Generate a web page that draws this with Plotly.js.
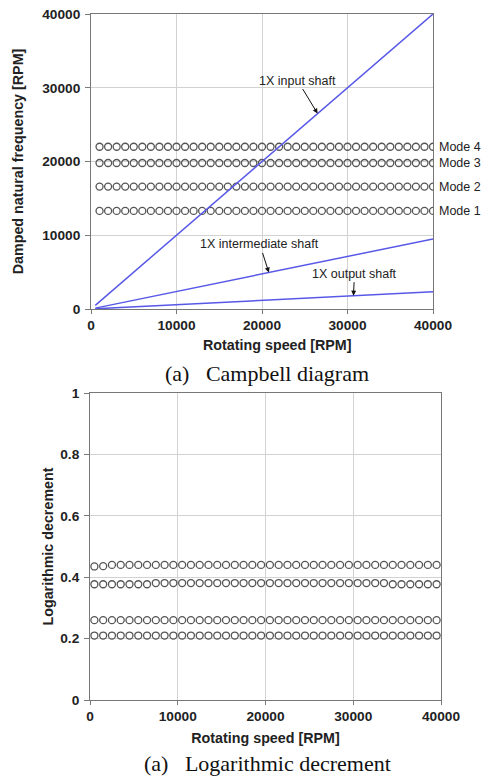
<!DOCTYPE html>
<html>
<head>
<meta charset="utf-8">
<script src="https://cdn.plot.ly/plotly-3.0.1.min.js"></script>
<style>html,body{margin:0;padding:0;background:#fff;}#chart{width:481px;height:779px;}</style>
</head>
<body>
<div id="chart"></div>
<script>
// ---- Campbell diagram data ----
const speedTop = [1000,2000,3000,4000,5000,6000,7000,8000,9000,10000,11000,12000,13000,14000,15000,16000,17000,18000,19000,20000,21000,22000,23000,24000,25000,26000,27000,28000,29000,30000,31000,32000,33000,34000,35000,36000,37000,38000,39000,40000];
const freqMode1 = [13300,13300,13300,13300,13300,13300,13300,13300,13300,13300,13300,13300,13300,13300,13300,13300,13300,13300,13300,13300,13300,13300,13300,13300,13300,13300,13300,13300,13300,13300,13300,13300,13300,13300,13300,13300,13300,13300,13300,13300];
const freqMode2 = [16600,16600,16600,16600,16600,16600,16600,16600,16600,16600,16600,16600,16600,16600,16600,16600,16600,16600,16600,16600,16600,16600,16600,16600,16600,16600,16600,16600,16600,16600,16600,16600,16600,16600,16600,16600,16600,16600,16600,16600];
const freqMode3 = [19800,19800,19800,19800,19800,19800,19800,19800,19800,19800,19800,19800,19800,19800,19800,19800,19800,19800,19800,19800,19800,19800,19800,19800,19800,19800,19800,19800,19800,19800,19800,19800,19800,19800,19800,19800,19800,19800,19800,19800];
const freqMode4 = [22000,22000,22000,22000,22000,22000,22000,22000,22000,22000,22000,22000,22000,22000,22000,22000,22000,22000,22000,22000,22000,22000,22000,22000,22000,22000,22000,22000,22000,22000,22000,22000,22000,22000,22000,22000,22000,22000,22000,22000];
const shaftSpeed = [500, 40000];
const inputShaft1X = [500, 40000];
const intermediateShaft1X = [120, 9500];
const outputShaft1X = [30, 2350];
const modeLabels = ['Mode 1','Mode 2','Mode 3','Mode 4'];
const modeLabelY = [13300, 16600, 19800, 22000];

// ---- Logarithmic decrement data ----
const speedBottom = [500,1500,2500,3500,4500,5500,6500,7500,8500,9500,10500,11500,12500,13500,14500,15500,16500,17500,18500,19500,20500,21500,22500,23500,24500,25500,26500,27500,28500,29500,30500,31500,32500,33500,34500,35500,36500,37500,38500,39500];
const logDecA = [0.435,0.436,0.44,0.44,0.44,0.44,0.44,0.44,0.44,0.44,0.44,0.44,0.44,0.44,0.44,0.44,0.44,0.44,0.44,0.44,0.44,0.44,0.44,0.44,0.44,0.44,0.44,0.44,0.44,0.44,0.44,0.44,0.44,0.44,0.44,0.44,0.44,0.44,0.44,0.44];
const logDecB = [0.377,0.377,0.377,0.377,0.377,0.377,0.377,0.381,0.381,0.381,0.381,0.381,0.381,0.381,0.381,0.381,0.381,0.381,0.381,0.381,0.381,0.381,0.381,0.381,0.381,0.381,0.381,0.381,0.381,0.381,0.381,0.381,0.381,0.381,0.377,0.377,0.377,0.377,0.377,0.377];
const logDecC = [0.26,0.26,0.26,0.26,0.26,0.26,0.26,0.26,0.26,0.26,0.26,0.26,0.26,0.26,0.26,0.26,0.26,0.26,0.26,0.26,0.26,0.26,0.26,0.26,0.26,0.26,0.26,0.26,0.26,0.26,0.26,0.26,0.26,0.26,0.26,0.26,0.26,0.26,0.26,0.26];
const logDecD = [0.21,0.21,0.21,0.21,0.21,0.21,0.21,0.21,0.21,0.21,0.21,0.21,0.21,0.21,0.21,0.21,0.21,0.21,0.21,0.21,0.21,0.21,0.21,0.21,0.21,0.21,0.21,0.21,0.21,0.21,0.21,0.21,0.21,0.21,0.21,0.21,0.21,0.21,0.21,0.21];

const W = 481, H = 779;
const sans = 'Liberation Sans, Arial, sans-serif';
const serif = 'Liberation Serif, Times New Roman, serif';
const lineColor = '#5858e8';
const mk = {symbol:'circle-open', size:7, color:'#555555', line:{width:1.3, color:'#555555'}};

function modeTrace(x, y, xa, ya, name){
  return {type:'scatter', mode:'markers', x:x, y:y, xaxis:xa, yaxis:ya, name:name, marker:mk, hoverinfo:'x+y'};
}
function lineTrace(y, name){
  return {type:'scatter', mode:'lines', x:shaftSpeed, y:y, xaxis:'x', yaxis:'y', name:name, line:{color:lineColor, width:1.5}};
}

const data = [
  modeTrace(speedTop, freqMode1, 'x', 'y', 'Mode 1'),
  modeTrace(speedTop, freqMode2, 'x', 'y', 'Mode 2'),
  modeTrace(speedTop, freqMode3, 'x', 'y', 'Mode 3'),
  modeTrace(speedTop, freqMode4, 'x', 'y', 'Mode 4'),
  lineTrace(inputShaft1X, '1X input shaft'),
  lineTrace(intermediateShaft1X, '1X intermediate shaft'),
  lineTrace(outputShaft1X, '1X output shaft'),
  modeTrace(speedBottom, logDecA, 'x2', 'y2', 'A'),
  modeTrace(speedBottom, logDecB, 'x2', 'y2', 'B'),
  modeTrace(speedBottom, logDecC, 'x2', 'y2', 'C'),
  modeTrace(speedBottom, logDecD, 'x2', 'y2', 'D')
];

const tickFont = {family:sans, size:13.7, color:'#222', weight:'bold'};
const titleFont = {family:sans, size:14.3, color:'#222', weight:'bold'};
const axBase = {
  showgrid:true, gridcolor:'#d2d2d2', gridwidth:1,
  showline:true, linecolor:'#777777', linewidth:1, mirror:true,
  ticks:'outside', ticklen:5, tickcolor:'#7a7a7a', tickwidth:1,
  tickfont:tickFont, zeroline:false, fixedrange:true
};

const annotations = [];
modeLabels.forEach(function(t, i){
  annotations.push({xref:'x', yref:'y', x:40000, y:modeLabelY[i], text:t, showarrow:false,
    xanchor:'left', yanchor:'middle', xshift:4, font:{family:sans, size:12.5, color:'#222'}});
});
const arrowFont = {family:sans, size:12.5, color:'#222'};
annotations.push({xref:'x', yref:'y', x:26500, y:26500, text:'1X input shaft', showarrow:true,
  arrowhead:2, arrowsize:1, arrowwidth:1, arrowcolor:'#111', ax:-20, ay:-33, font:arrowFont});
annotations.push({xref:'x', yref:'y', x:20800, y:4950, text:'1X intermediate shaft', showarrow:true,
  arrowhead:2, arrowsize:1, arrowwidth:1, arrowcolor:'#111', ax:-9, ay:-28, font:arrowFont});
annotations.push({xref:'x', yref:'y', x:30700, y:1810, text:'1X output shaft', showarrow:true,
  arrowhead:2, arrowsize:1, arrowwidth:1, arrowcolor:'#111', ax:1, ay:-22, font:arrowFont});
// top x-axis title (sits slightly right of the plot centre in the original)
annotations.push({xref:'paper', yref:'paper', x:277/W, y:1-345/H, text:'Rotating speed [RPM]',
  showarrow:false, xanchor:'center', yanchor:'middle', font:titleFont});
annotations.push({xref:'paper', yref:'paper', x:267/W, y:1-373/H, text:'(a)\u00a0\u00a0\u00a0Campbell diagram',
  showarrow:false, xanchor:'center', yanchor:'middle', font:{family:serif, size:22, color:'#111'}});
annotations.push({xref:'paper', yref:'paper', x:267/W, y:1-763/H, text:'(a)\u00a0\u00a0\u00a0Logarithmic decrement',
  showarrow:false, xanchor:'center', yanchor:'middle', font:{family:serif, size:22, color:'#111'}});

const layout = {
  width:W, height:H, margin:{l:0, r:0, t:0, b:0},
  paper_bgcolor:'#ffffff', plot_bgcolor:'#ffffff', showlegend:false,
  xaxis:Object.assign({}, axBase, {domain:[91/W, 433/W], anchor:'y', range:[0,40000], tick0:0, dtick:10000, tickformat:'d',
    ticklen:4, ticklabelstandoff:0}),
  yaxis:Object.assign({}, axBase, {domain:[1-309/H, 1-14/H], anchor:'x', range:[0,40000], tick0:0, dtick:10000, tickformat:'d',
    ticklabelstandoff:2, title:{text:'Damped natural frequency [RPM]', font:titleFont, standoff:15}}),
  xaxis2:Object.assign({}, axBase, {domain:[90/W, 441/W], anchor:'y2', range:[0,40000], tick0:0, dtick:10000, tickformat:'d',
    ticklen:4, ticklabelstandoff:0, title:{text:'Rotating speed [RPM]', font:titleFont, standoff:9}}),
  yaxis2:Object.assign({}, axBase, {domain:[1-700/H, 1-393/H], anchor:'x2', range:[0,1], tick0:0, dtick:0.2,
    ticklabelstandoff:2, title:{text:'Logarithmic decrement', font:titleFont, standoff:3}}),
  annotations:annotations
};

Plotly.newPlot('chart', data, layout, {staticPlot:true, displayModeBar:false});
</script>
</body>
</html>
